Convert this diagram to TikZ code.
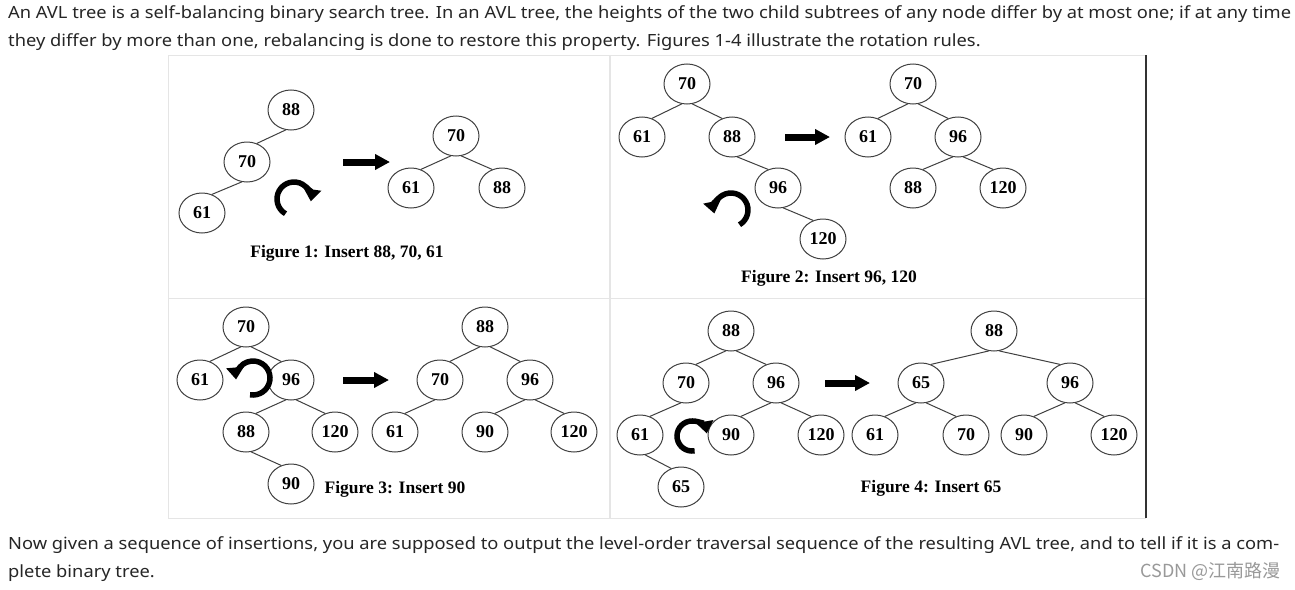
\documentclass[tikz,border=0pt]{standalone}
\usepackage{fontspec}
\setmainfont{Liberation Serif}
\newfontfamily\uifont[FakeStretch=1.09]{Noto Sans}
\newfontfamily\cjk{Noto Sans CJK SC}
\usetikzlibrary{arrows.meta, shapes.geometric, calc}

\begin{document}
\begin{tikzpicture}[
  x=1pt, y=-1pt,
  avl/.style={draw=black!75, line width=1pt, ellipse, minimum width=46pt, minimum height=40pt, inner sep=0pt, font=\fontsize{18}{18}\selectfont\bfseries},
  link/.style={draw=black!75, line width=1pt},
  bigarrow/.style={-{Triangle[length=15pt, width=15pt]}, line width=7pt},
  turn/.style={-{Triangle[length=12pt, width=17pt]}, line width=5.5pt},
  caption/.style={font=\fontsize{17.5}{18}\selectfont\bfseries, inner sep=0pt},
  para/.style={anchor=base west, inner sep=0pt, text=black!85, font=\uifont\fontsize{16.8}{18}\selectfont},
  stamp/.style={anchor=base east, inner sep=0pt, text=black!40, font=\cjk\fontsize{18}{18}\selectfont},
  cell/.style={draw=black!10, line width=1pt}
]
\fill[white] (0,0) rectangle (1295,589);
\useasboundingbox (0,0) rectangle (1295,589);

\node[para] (intro1) at (8,18) {An AVL tree is a self-balancing binary search tree. In an AVL tree, the heights of the two child subtrees of any node differ by at most one; if at any time};
\node[para] (intro2) at (8,46) {they differ by more than one, rebalancing is done to restore this property. Figures 1-4 illustrate the rotation rules.};

\draw[cell] (1146,55) -- (168,55) -- (168,518) -- (1146,518);
\draw[cell, line width=2pt] (610,55) -- (610,518);
\draw[cell] (168,298) -- (1146,298);
\draw[line width=2pt, black!80] (1146,55) -- (1146,518);

% Figure 1
\node[avl] (a88) at (291,110) {88};
\node[avl] (a70) at (247,162) {70};
\node[avl] (a61) at (202,213) {61};
\node[avl] (b70) at (456,136) {70};
\node[avl] (b61) at (411,188) {61};
\node[avl] (b88) at (502,188) {88};
\draw[link] (a88.255) -- (a70.62);
\draw[link] (a70.255) -- (a61.62);
\draw[link] (b70.255) -- (b61.62);
\draw[link] (b70.285) -- (b88.118);
\coordinate (s1) at (343,162);
\coordinate (t1) at (390,162);
\draw[bigarrow] (s1) -- (t1);
\coordinate (r1) at (294,199);
\draw[turn] ($(r1)+(120:17)$) arc[start angle=120, end angle=368, radius=17];
\node[caption] (cap1) at (347,253) {Figure 1: Insert 88, 70, 61};

% Figure 2
\node[avl] (c70) at (687,84) {70};
\node[avl] (c61) at (642,137) {61};
\node[avl] (c88) at (732,137) {88};
\node[avl] (c96) at (778,188) {96};
\node[avl] (c120) at (823,239) {120};
\node[avl] (d70) at (913,84) {70};
\node[avl] (d61) at (868,137) {61};
\node[avl] (d96) at (958,137) {96};
\node[avl] (d88) at (913,188) {88};
\node[avl] (d120) at (1003,188) {120};
\draw[link] (c70.255) -- (c61.62);
\draw[link] (c70.285) -- (c88.118);
\draw[link] (c88.285) -- (c96.118);
\draw[link] (c96.285) -- (c120.118);
\draw[link] (d70.255) -- (d61.62);
\draw[link] (d70.285) -- (d96.118);
\draw[link] (d96.255) -- (d88.62);
\draw[link] (d96.285) -- (d120.118);
\coordinate (s2) at (785,137);
\coordinate (t2) at (830,137);
\draw[bigarrow] (s2) -- (t2);
\coordinate (r2) at (731,210);
\draw[turn] ($(r2)+(60:17)$) arc[start angle=60, end angle=-192, radius=17];
\node[caption] (cap2) at (829,278) {Figure 2: Insert 96, 120};

% Figure 3
\node[avl] (e70) at (246,327) {70};
\node[avl] (e61) at (200,380) {61};
\node[avl] (e96) at (291,380) {96};
\node[avl] (e88) at (246,432) {88};
\node[avl] (e120) at (335,432) {120};
\node[avl] (e90) at (291,484) {90};
\node[avl] (f88) at (485,327) {88};
\node[avl] (f70) at (440,380) {70};
\node[avl] (f96) at (530,380) {96};
\node[avl] (f61) at (395,432) {61};
\node[avl] (f90) at (485,432) {90};
\node[avl] (f120) at (574,432) {120};
\draw[link] (e70.255) -- (e61.62);
\draw[link] (e70.285) -- (e96.118);
\draw[link] (e96.255) -- (e88.62);
\draw[link] (e96.285) -- (e120.118);
\draw[link] (e88.285) -- (e90.118);
\draw[link] (f88.255) -- (f70.62);
\draw[link] (f88.285) -- (f96.118);
\draw[link] (f70.255) -- (f61.62);
\draw[link] (f96.255) -- (f90.62);
\draw[link] (f96.285) -- (f120.118);
\coordinate (s3) at (343,380);
\coordinate (t3) at (389,380);
\draw[bigarrow] (s3) -- (t3);
\coordinate (r3) at (253,378);
\draw[turn] ($(r3)+(100:17)$) arc[start angle=100, end angle=-185, radius=17];
\node[caption] (cap3) at (395,489) {Figure 3: Insert 90};

% Figure 4
\node[avl] (g88) at (731,331) {88};
\node[avl] (g70) at (686,383) {70};
\node[avl] (g96) at (776,383) {96};
\node[avl] (g61) at (640,435) {61};
\node[avl] (g90) at (731,435) {90};
\node[avl] (g120) at (821,435) {120};
\node[avl] (g65) at (681,487) {65};
\node[avl] (h88) at (994,331) {88};
\node[avl] (h65) at (921,383) {65};
\node[avl] (h96) at (1070,383) {96};
\node[avl] (h61) at (875,435) {61};
\node[avl] (h70) at (966,435) {70};
\node[avl] (h90) at (1024,435) {90};
\node[avl] (h120) at (1114,435) {120};
\draw[link] (g88.255) -- (g70.62);
\draw[link] (g88.285) -- (g96.118);
\draw[link] (g70.255) -- (g61.62);
\draw[link] (g96.255) -- (g90.62);
\draw[link] (g96.285) -- (g120.118);
\draw[link] (g61.285) -- (g65.118);
\draw[link] (h88.255) -- (h65.62);
\draw[link] (h88.285) -- (h96.118);
\draw[link] (h65.255) -- (h61.62);
\draw[link] (h65.285) -- (h70.118);
\draw[link] (h96.255) -- (h90.62);
\draw[link] (h96.285) -- (h120.118);
\coordinate (s4) at (825,383);
\coordinate (t4) at (870,383);
\draw[bigarrow] (s4) -- (t4);
\coordinate (r4) at (692,436);
\draw[turn] ($(r4)+(80:15)$) arc[start angle=80, end angle=350, radius=15];
\node[caption] (cap4) at (931,488) {Figure 4: Insert 65};

\node[para] (task1) at (8,549) {Now given a sequence of insertions, you are supposed to output the level-order traversal sequence of the resulting AVL tree, and to tell if it is a com-};
\node[para] (task2) at (8,577) {plete binary tree.};
\node[stamp] (credit) at (1281,577) {CSDN @江南路漫};
\end{tikzpicture}
\end{document}
